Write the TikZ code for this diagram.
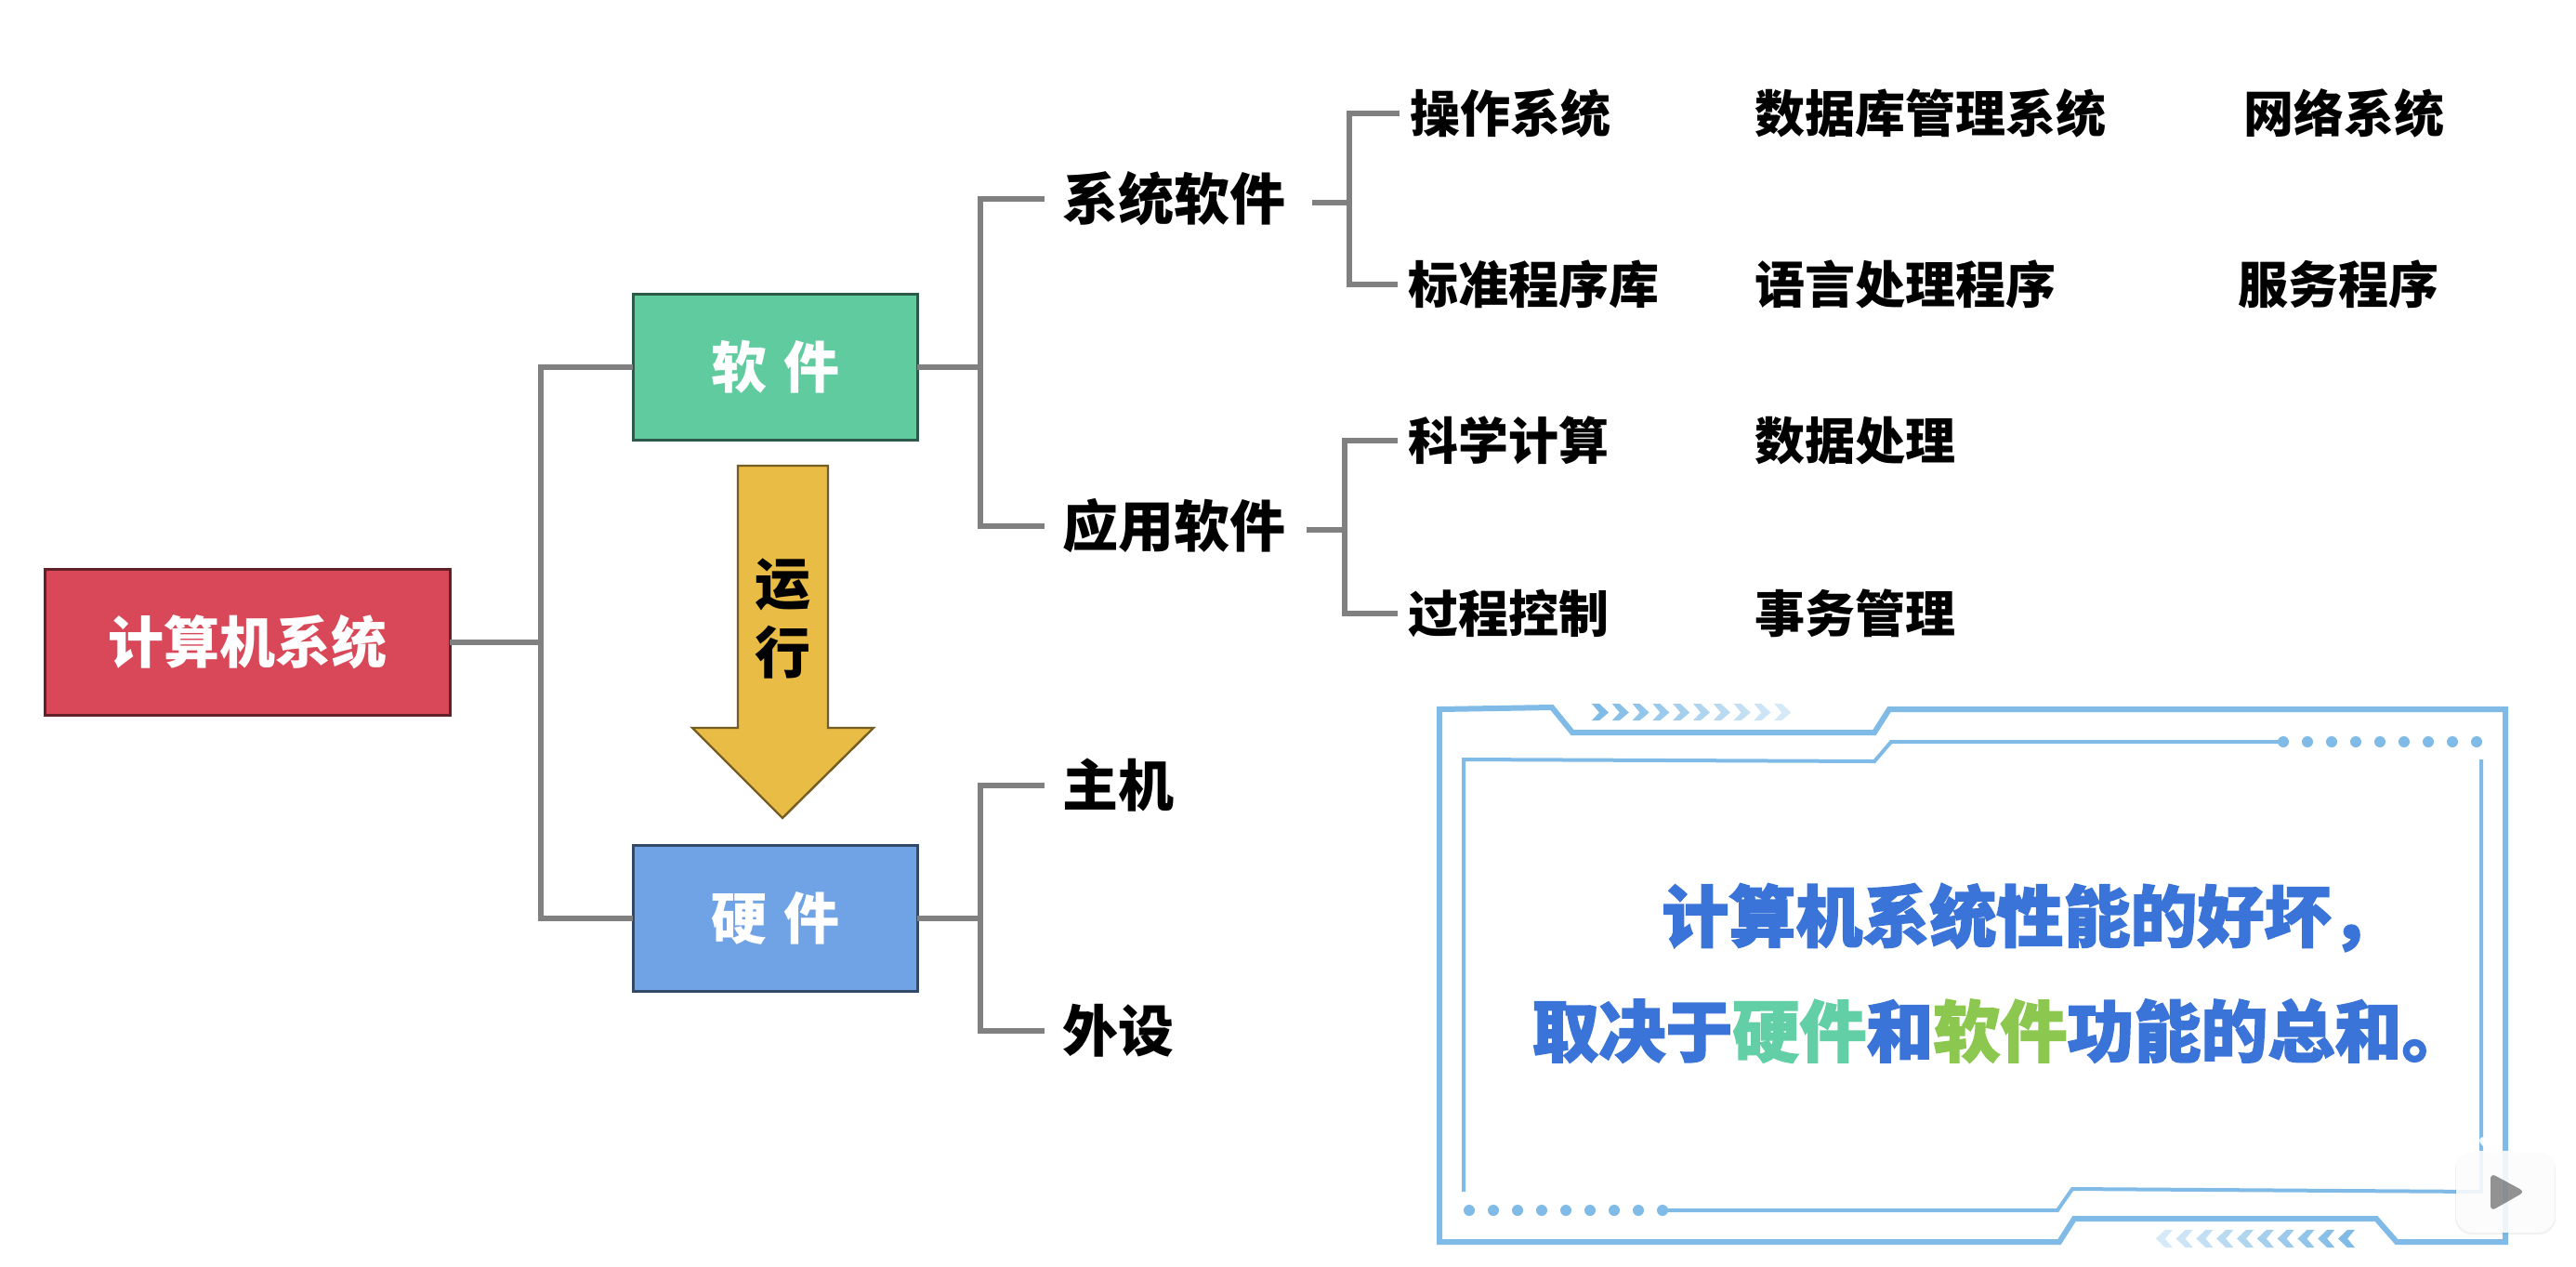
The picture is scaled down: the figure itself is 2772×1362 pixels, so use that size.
\documentclass[tikz,border=0pt]{standalone}
\usepackage{fontspec}
\setmainfont{Noto Sans CJK SC}
\newfontfamily\panelfont[BoldFeatures={FakeBold=2}]{Noto Sans CJK SC}
\definecolor{conn}{HTML}{808080}
\definecolor{framec}{HTML}{7FBBE6}
\definecolor{rootc}{HTML}{D94858}
\definecolor{softc}{HTML}{5FCB9F}
\definecolor{hardc}{HTML}{6FA3E5}
\definecolor{arrowc}{HTML}{E8BC45}
\definecolor{tblue}{HTML}{3B74D8}
\definecolor{tteal}{HTML}{62CFA6}
\definecolor{tgreen}{HTML}{8CC850}
\tikzset{
  boxbase/.style={draw,line width=1.5pt,outer sep=0pt,text=white,font=\fontsize{30}{30}\selectfont\bfseries,anchor=north west,inner sep=0pt,minimum height=78.5pt},
  rootbox/.style={boxbase,fill=rootc,draw=rootc!45!black,minimum width=218pt},
  softbox/.style={boxbase,fill=softc,draw=softc!45!black,minimum width=153pt},
  hardbox/.style={boxbase,fill=hardc,draw=hardc!45!black,minimum width=153pt},
  connector/.style={draw=conn,line width=3pt},
  bigleaf/.style={anchor=west,inner ysep=0pt,inner xsep=9.5pt,font=\fontsize{30}{30}\selectfont\bfseries},
  smallleaf/.style={anchor=west,inner ysep=0pt,inner xsep=5.5pt,font=\fontsize{27}{27}\selectfont\bfseries},
  plainleaf/.style={anchor=west,inner sep=0pt,font=\fontsize{27}{27}\selectfont\bfseries},
  outerframe/.style={draw=framec,line width=3pt,line join=miter},
  innerframe/.style={draw=framec,line width=2pt},
  paneltext/.style={anchor=west,inner sep=0pt,font=\fontsize{36}{36}\selectfont\panelfont\bfseries},
}
\begin{document}
\begin{tikzpicture}[x=0.5pt,y=-0.5pt]
\useasboundingbox (0,0) rectangle (2772,1362);
% boxes
\node[rootbox] (root) at (48,612) {计算机系统};
\node[softbox] (soft) at (681,316) {软\hspace{9pt}件};
\node[hardbox] (hard) at (681,909) {硬\hspace{9pt}件};
% down arrow
\draw[fill=arrowc,draw=arrowc!50!black,line width=1.2pt,line join=miter]
  (794,501) -- (891,501) -- (891,783) -- (940,783) -- (842,880) -- (745,783) -- (794,783) -- cycle;
\node[font=\fontsize{30}{30}\selectfont\bfseries,inner sep=0pt] (runa) at (842,629) {运};
\node[font=\fontsize{30}{30}\selectfont\bfseries,inner sep=0pt] (runb) at (842,702) {行};
% leaves
\node[bigleaf] (sys) at (1124,214) {系统软件};
\node[bigleaf] (app) at (1124,566) {应用软件};
\node[bigleaf] (host) at (1124,845) {主机};
\node[bigleaf] (peri) at (1124,1109) {外设};
\node[smallleaf] (os) at (1506,122) {操作系统};
\node[plainleaf] (db) at (1888,122) {数据库管理系统};
\node[plainleaf] (net) at (2414,122) {网络系统};
\node[smallleaf] (lib) at (1504,306) {标准程序库};
\node[plainleaf] (lang) at (1888,306) {语言处理程序};
\node[plainleaf] (svc) at (2408,306) {服务程序};
\node[smallleaf] (sci) at (1504,474) {科学计算};
\node[plainleaf] (data) at (1888,474) {数据处理};
\node[smallleaf] (ctl) at (1504,660) {过程控制};
\node[plainleaf] (biz) at (1888,660) {事务管理};
% junctions
\coordinate (rootj) at (582,690);
\coordinate (softj) at (1055,393);
\coordinate (hardj) at (1055,985);
\coordinate (sysj) at (1452,218);
\coordinate (appj) at (1447,570);
% connectors
\draw[connector] (root.east) -- (root.east -| rootj);
\draw[connector] (soft.west) -| (rootj |- root.east) |- (hard.west);
\draw[connector] (soft.east) -- (soft.east -| softj);
\draw[connector] (sys.west) -| (softj) |- (app.west);
\draw[connector] (hard.east) -- (hard.east -| hardj);
\draw[connector] (host.west) -| (hardj) |- (peri.west);
\draw[connector] (sys.east) ++(9,4) coordinate (sysout) -- (sysj);
\draw[connector] (os.west) -| (sysj) |- (lib.west);
\draw[connector] (app.east) ++(3,4) coordinate (appout) -- (appj);
\draw[connector] (sci.west) -| (appj) |- (ctl.west);
% decorative panel frame
\draw[outerframe] (1549,763) -- (1670,761) -- (1692,788) -- (2017,788) -- (2033,763) -- (2696,763) -- (2696,1336)
  -- (2579,1336) -- (2557,1311) -- (2232,1311) -- (2216,1336) -- (1549,1336) -- cycle;
\draw[innerframe] (1575,1282) -- (1575,817) -- (2017,819) -- (2035,798) -- (2457,798);
\draw[innerframe] (2670,817) -- (2670,1282) -- (2230,1279) -- (2214,1302) -- (1792,1302);
\foreach \i in {0,...,8} {
  \fill[framec] ({2457+26*\i},798) circle (6);
  \fill[framec] ({1581+26*\i},1302) circle (6);
}
\foreach \i in {0,...,9} {
  \pgfmathsetmacro{\op}{1-0.075*\i}
  \fill[framec,opacity=\op] ({1713+21.8*\i},757) -- ++(8,0) -- ++(10,9.5) -- ++(-10,8.5) -- ++(-8,0) -- ++(8,-8.5) -- cycle;
  \fill[framec,opacity=\op] ({2534-21.8*\i},1323) -- ++(-8,0) -- ++(-10,9.5) -- ++(10,9.5) -- ++(8,0) -- ++(-8,-9.5) -- cycle;
}
% panel text
\node[paneltext,text=tblue] (pa) at (1788,987) {计算机系统性能的好坏，};
\node[paneltext,text=tblue] (pb) at (1648,1109) {取决于\textcolor{tteal}{硬件}和\textcolor{tgreen}{软件}功能的总和。};
% player logo
\draw[white,line width=4pt,line cap=round,opacity=.9] (2672,1227) -- (2683,1240);
\draw[white,line width=4pt,line cap=round,opacity=.9] (2718,1227) -- (2709,1240);
\fill[black,opacity=.06,rounded corners=9pt] (2642,1240) rectangle (2750,1328);
\fill[white,opacity=.88,rounded corners=9pt] (2643,1238) rectangle (2749,1326);
\fill[black,opacity=.42,rounded corners=3pt] (2680,1262) -- (2717,1282) -- (2680,1303) -- cycle;
\end{tikzpicture}
\end{document}
